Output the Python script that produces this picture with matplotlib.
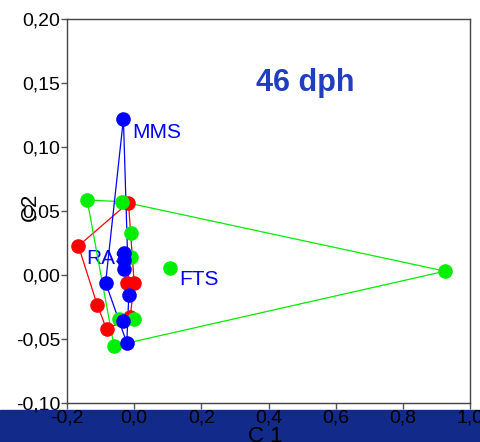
import matplotlib
matplotlib.use("Agg")
import matplotlib.pyplot as plt
from matplotlib.patches import Rectangle
from matplotlib.ticker import FuncFormatter

plt.rcParams["font.family"] = ["Liberation Sans", "DejaVu Sans"]

# C1 / C2 scores per group (46 dph)
RED_X = [-0.017, -0.166, -0.110, -0.082, -0.022, 0.000, -0.012]
RED_Y = [0.0565, 0.0227, -0.0234, -0.0424, -0.0065, -0.0060, -0.0330]
GREEN_X = [-0.140, -0.037, -0.010, -0.010, 0.107, -0.044, -0.001, -0.060, 0.926]
GREEN_Y = [0.0586, 0.0573, 0.0326, 0.0143, 0.0052, -0.0340, -0.0340, -0.0555, 0.0030]
BLUE_X = [-0.032, -0.029, -0.029, -0.029, -0.085, -0.016, -0.032, -0.022]
BLUE_Y = [0.122, 0.017, 0.012, 0.005, -0.006, -0.016, -0.036, -0.053]


def hull(xs, ys):
    pts = sorted(set(zip(xs, ys)))
    def cross(o, a, b):
        return (a[0]-o[0])*(b[1]-o[1]) - (a[1]-o[1])*(b[0]-o[0])
    lo, up = [], []
    for p in pts:
        while len(lo) >= 2 and cross(lo[-2], lo[-1], p) <= 0:
            lo.pop()
        lo.append(p)
    for p in reversed(pts):
        while len(up) >= 2 and cross(up[-2], up[-1], p) <= 0:
            up.pop()
        up.append(p)
    h = lo[:-1] + up[:-1]
    h.append(h[0])
    return [p[0] for p in h], [p[1] for p in h]


fig = plt.figure(figsize=(4.81, 4.42), dpi=100)
band = Rectangle((0, 0), 1, 32/442, transform=fig.transFigure, color="#122a8a", zorder=-5)
fig.patches.append(band)
ax = fig.add_axes([67/481, 1-403/442, 403/481, 384/442])
ax.set_zorder(2)

COLS = {"red": "#ff0000", "green": "#00ee00", "blue": "#0000ff"}
for key, xs, ys in [("red", RED_X, RED_Y), ("green", GREEN_X, GREEN_Y), ("blue", BLUE_X, BLUE_Y)]:
    hx, hy = hull(xs, ys)
    ax.plot(hx, hy, color=COLS[key], lw=0.9, zorder=2)
    ax.plot(xs, ys, "o", color=COLS[key], ms=10.5, mec="none", zorder=4)

ax.text(-0.032 + 0.025, 0.122 - 0.011, "MMS", color="#0000ff", fontsize=15, va="center", zorder=1)
ax.text(-0.143, 0.0125, "RAS", color="#0000ff", fontsize=15, va="center", zorder=1)
ax.text(0.107 + 0.027, -0.0035, "FTS", color="#0000ff", fontsize=15, va="center", zorder=1)

ax.text(0.51, 0.150, "46 dph", color="#1f3fbf", fontsize=22, fontweight="bold",
        ha="center", va="center")

ax.set_xlim(-0.2, 1.0)
ax.set_ylim(-0.10, 0.20)
ax.set_xticks([-0.2, 0.0, 0.2, 0.4, 0.6, 0.8, 1.0])
ax.set_yticks([-0.10, -0.05, 0.0, 0.05, 0.10, 0.15, 0.20])
ax.xaxis.set_major_formatter(FuncFormatter(lambda v, p: f"{v:.1f}".replace(".", ",")))
ax.yaxis.set_major_formatter(FuncFormatter(lambda v, p: f"{v:.2f}".replace(".", ",")))
ax.tick_params(direction="out", length=4, width=1, color="#555555", labelsize=14, pad=1)
for s in ax.spines.values():
    s.set_color("#444444")
    s.set_linewidth(1)

fig.text(265/481, 1-436/442, "C 1", fontsize=16, ha="center", va="center", zorder=3)
fig.text(30/481, 1-207/442, "C2", fontsize=16, ha="center", va="center", rotation=90, zorder=3)

fig.savefig("out.png", dpi=100)
